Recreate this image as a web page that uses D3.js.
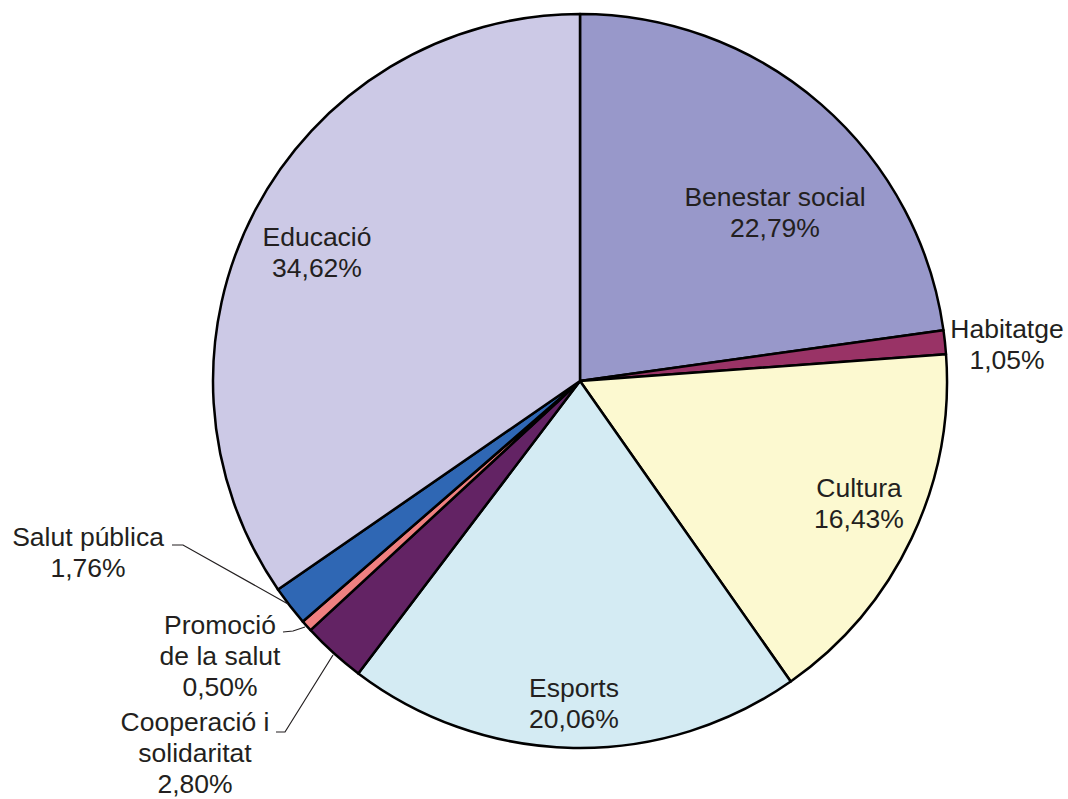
<!DOCTYPE html>
<html><head><meta charset="utf-8">
<script src="https://cdn.jsdelivr.net/npm/d3@7"></script>
<style>body{margin:0;background:#fff;}svg{display:block;}</style>
</head><body>
<svg id="chart" width="1068" height="799"></svg>
<script>
const categories = ["Benestar social","Habitatge","Cultura","Esports","Cooperació i solidaritat","Promoció de la salut","Salut pública","Educació"];
const values = [22.79,1.05,16.43,20.06,2.80,0.50,1.76,34.62];
const valueLabels = ["22,79%","1,05%","16,43%","20,06%","2,80%","0,50%","1,76%","34,62%"];
const colors = ["#9898CA","#993366","#FCF9D0","#D4EBF3","#632364","#F08080","#2F67B4","#CCC9E6"];
const labelLines = [["Benestar social"],["Habitatge"],["Cultura"],["Esports"],["Cooperació i","solidaritat"],["Promoció","de la salut"],["Salut pública"],["Educació"]];
// label anchor positions (baseline of first line) and leader lines
const labelPos = [[775,206],[1007,338],[859,497],[574,697],[195,731],[220,634],[88,546],[317,246]];
const leaders = [null,null,null,null,[[276,732],[285,732],[333,655]],[[283,632],[293,631],[305,627]],[[172,545],[183,545],[288,604]],null];

const svg = d3.select("#chart");
const cx = 580, cy = 381, r = 367;
const g = svg.append("g").attr("transform",`translate(${cx},${cy})`);
const pie = d3.pie().sort(null).value(d=>d)(values);
const arc = d3.arc().innerRadius(0).outerRadius(r);
g.selectAll("path").data(pie).join("path")
  .attr("d",arc).attr("fill",(d,i)=>colors[i])
  .attr("stroke","#000").attr("stroke-width",2.5).attr("stroke-linejoin","round");

const line = d3.line();
leaders.forEach(l=>{ if(l) svg.append("path").attr("d",line(l)).attr("fill","none").attr("stroke","#231F20").attr("stroke-width",1.2); });

categories.forEach((c,i)=>{
  const lines = labelLines[i].concat([valueLabels[i]]);
  const t = svg.append("text").attr("text-anchor","middle")
    .attr("font-family","Liberation Sans, Arial, sans-serif").attr("font-size",26.5).attr("fill","#231F20");
  lines.forEach((s,k)=>{
    t.append("tspan").attr("x",labelPos[i][0]).attr("y",labelPos[i][1]+k*31).text(s);
  });
});
</script>
</body></html>
